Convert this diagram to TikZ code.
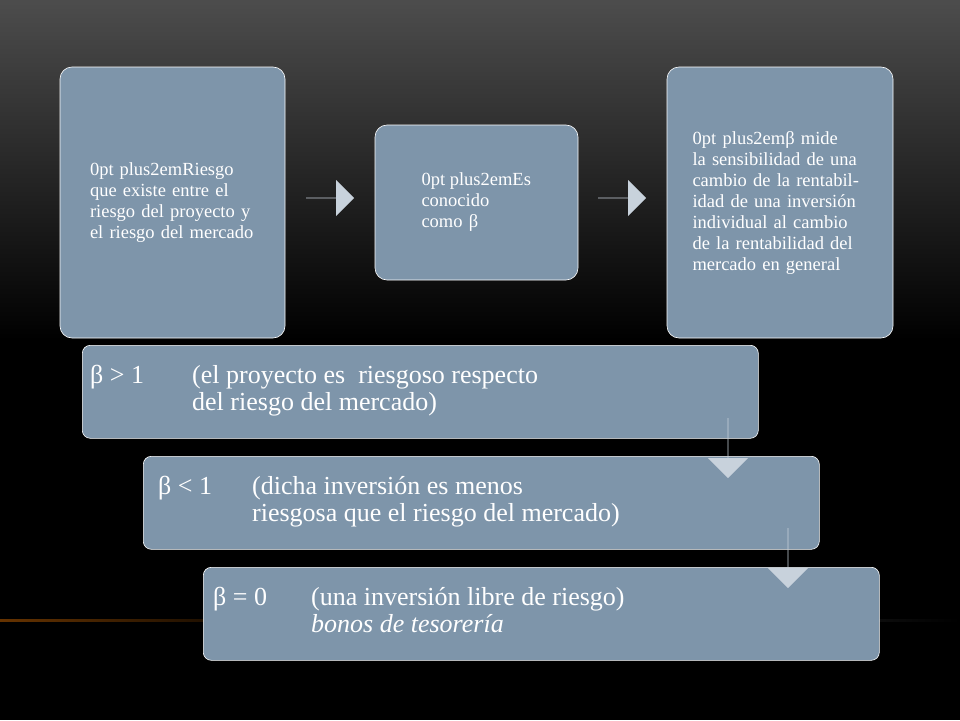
\documentclass[tikz,border=0pt]{standalone}
\usepackage{fontspec}
\setmainfont{Liberation Serif}
\usetikzlibrary{positioning,shapes.arrows}
\definecolor{boxfill}{HTML}{7E95AA}
\definecolor{arrfill}{HTML}{C8D2DC}
\tikzset{
  card/.style={draw=white, line width=0.6pt, fill=boxfill, rounded corners=12pt, text=white, align=center, font=\fontsize{18.5}{21}\selectfont\hyphenpenalty=10000},
  stepbar/.style={draw=white, line width=0.6pt, fill=boxfill, rounded corners=8pt, minimum width=676pt, minimum height=93pt, anchor=north west},
  sidearrow/.style={single arrow, fill=arrfill, minimum height=48pt, minimum width=36pt, single arrow head extend=9pt, inner sep=0pt},
  downarrow/.style={single arrow, fill=arrfill, shape border rotate=270, minimum height=60pt, minimum width=40pt, single arrow head extend=10pt, inner sep=0pt},
  big/.style={text=white, font=\fontsize{26}{27}\selectfont, anchor=north west, align=left, inner sep=0pt}
}
\begin{document}
\begin{tikzpicture}[x=1pt,y=-1pt]
\fill[black] (0,0) rectangle (960,720);
\shade[top color=black!70, bottom color=black] (0,0) rectangle (960,340);
\shade[left color=orange!40!black, right color=black] (0,619) rectangle (300,621);
\shade[left color=black!60, right color=black] (300,619) rectangle (960,621);
\useasboundingbox (0,0) rectangle (960,720);

% upper row
\node[card, minimum width=225pt, minimum height=271pt, text width=165pt] (risk) at (172.5,202.5)
  {Riesgo que existe entre el riesgo del proyecto y el riesgo del mercado};
\node[card, minimum width=203pt, minimum height=155pt, text width=110pt] (known) at (476.5,202.5)
  {Es conocido como β};
\node[card, minimum width=226pt, minimum height=271pt, text width=175pt] (beta) at (780,202.5)
  {β mide la sensibilidad de una cambio de la rentabilidad de una inversión individual al cambio de la rentabilidad del mercado en general};
\node[sidearrow] (ar1) at (330,198) {};
\node[sidearrow] (ar2) at (622,198) {};

% lower steps
\node[stepbar] (one) at (82,345) {};
\node[stepbar] (two) at (143,456) {};
\node[stepbar] (zero) at (203,567) {};
\node[downarrow] (d1) at (728,448) {};
\node[downarrow] (d2) at (788,558) {};

\node[big] (s1) at (90,365) {β > 1};
\node[big] (t1) at (192,365) {(el proyecto es\ \ riesgoso respecto\\del riesgo del mercado)};
\node[big] (s2) at (158,476) {β < 1};
\node[big] (t2) at (252,476) {(dicha inversión es menos\\riesgosa que el riesgo del mercado)};
\node[big] (s3) at (213,587) {β = 0};
\node[big] (t3) at (311,587) {(una inversión libre de riesgo)\\\textit{bonos de tesorería}};
\end{tikzpicture}
\end{document}
